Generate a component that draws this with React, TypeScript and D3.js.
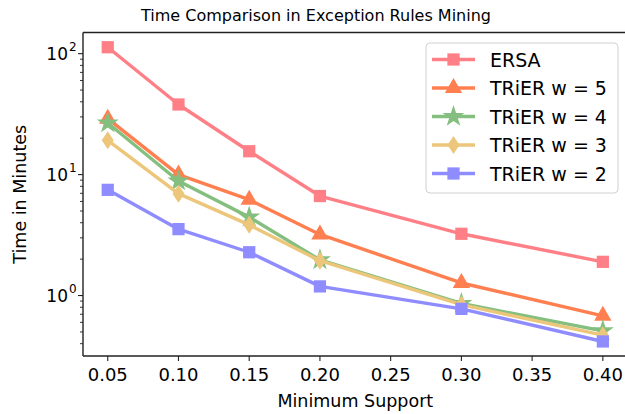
import * as d3 from 'd3';

const supports = [0.05, 0.1, 0.15, 0.2, 0.3, 0.4];
const xTicks = [0.05, 0.1, 0.15, 0.2, 0.25, 0.3, 0.35, 0.4];

const ersa = [113, 38, 15.6, 6.65, 3.24, 1.9];
const trier5 = [29, 10, 6.2, 3.2, 1.27, 0.68];
const trier4 = [26.7, 8.85, 4.45, 1.97, 0.86, 0.51];
const trier3 = [19.2, 6.96, 3.84, 1.94, 0.84, 0.47];
const trier2 = [7.48, 3.54, 2.28, 1.19, 0.776, 0.417];

const seriesNames = ['ERSA', 'TRiER w = 5', 'TRiER w = 4', 'TRiER w = 3', 'TRiER w = 2'];
const seriesValues = [ersa, trier5, trier4, trier3, trier2];
const seriesColours = ['#ff7f86', '#ff7f50', '#85bf7f', '#ecc67a', '#8f8cff'];
const seriesMarkers = ['square', 'triangle', 'star', 'diamond', 'square'];

const WIDTH = 625;
const HEIGHT = 414;
const font = "'DejaVu Sans', sans-serif";

function markerPath(kind: string): string {
  if (kind === 'square') return d3.symbol(d3.symbolSquare, 150)()!;
  if (kind === 'triangle') return d3.symbol(d3.symbolTriangle, 130)()!;
  if (kind === 'star') return d3.symbol(d3.symbolStar, 150)()!;
  // thin diamond
  const path = d3.path();
  path.moveTo(0, -9);
  path.lineTo(6, 0);
  path.lineTo(0, 9);
  path.lineTo(-6, 0);
  path.closePath();
  return path.toString();
}

export default function App() {
  const x = d3.scaleLinear().domain([0.0325, 0.4175]).range([83, 627.6]);
  const y = d3
    .scaleLog()
    .domain([Math.pow(10, -0.5), Math.pow(10, 2.175)])
    .range([356, 32.5]);

  const [left, right] = x.range();
  const [bottom, top] = y.range();

  const line = d3
    .line<number>()
    .x((_, i) => x(supports[i]))
    .y((v) => y(v));

  const majors = [1, 10, 100];
  const minors: number[] = [];
  for (let decade = 0.1; decade <= 100; decade *= 10) {
    for (let k = 2; k <= 9; k++) {
      const v = decade * k;
      if (y(v) <= bottom && y(v) >= top) minors.push(v);
    }
  }

  const legendX = 426;
  const legendY = 43;
  const legendRowGap = 28.5;

  return (
    <svg
      width={WIDTH}
      height={HEIGHT}
      style={{ position: 'absolute', left: 0, top: 0, background: '#fff' }}
      fontFamily={font}
    >
      <text x={316} y={21} textAnchor="middle" fontSize={16} fill="#000">
        Time Comparison in Exception Rules Mining
      </text>

      {seriesValues.map((values, s) => (
        <g key={seriesNames[s]}>
          <path
            d={line(values)!}
            fill="none"
            stroke={seriesColours[s]}
            strokeWidth={3.4}
            strokeLinejoin="round"
          />
          {values.map((v, i) => (
            <path
              key={i}
              d={markerPath(seriesMarkers[s])}
              transform={`translate(${x(supports[i])},${y(v)})`}
              fill={seriesColours[s]}
            />
          ))}
        </g>
      ))}

      {/* spines */}
      <line x1={left} x2={left} y1={top} y2={bottom} stroke="#222" strokeWidth={1.4} />
      <line x1={left} x2={WIDTH} y1={bottom} y2={bottom} stroke="#222" strokeWidth={1.4} />
      <line x1={left} x2={WIDTH} y1={top} y2={top} stroke="#222" strokeWidth={1.4} />

      {xTicks.map((t) => (
        <g key={t} transform={`translate(${x(t)},${bottom})`}>
          <line y1={0} y2={5} stroke="#222" strokeWidth={1.1} />
          <text y={25} textAnchor="middle" fontSize={18} fill="#000">
            {d3.format('.2f')(t)}
          </text>
        </g>
      ))}

      {majors.map((t) => (
        <g key={t} transform={`translate(${left},${y(t)})`}>
          <line x1={0} x2={-5} stroke="#222" strokeWidth={1.1} />
          <text x={-15} y={6} textAnchor="end" fontSize={17} fill="#000">
            10
          </text>
          <text x={-14} y={-2.5} textAnchor="start" fontSize={12} fill="#000">
            {Math.round(Math.log10(t))}
          </text>
        </g>
      ))}
      {minors.map((t) => (
        <line
          key={t}
          x1={left}
          x2={left - 3}
          y1={y(t)}
          y2={y(t)}
          stroke="#222"
          strokeWidth={0.9}
        />
      ))}

      <text x={(left + right) / 2} y={407} textAnchor="middle" fontSize={17.5} fill="#000">
        Minimum Support
      </text>
      <text
        transform={`translate(26,${(top + bottom) / 2}) rotate(-90)`}
        textAnchor="middle"
        fontSize={17.5}
        fill="#000"
      >
        Time in Minutes
      </text>

      <rect
        x={legendX}
        y={legendY}
        width={192}
        height={150}
        rx={4}
        fill="#fff"
        fillOpacity={0.8}
        stroke="#d0d0d0"
        strokeWidth={1}
      />
      {seriesNames.map((name, s) => {
        const cy = legendY + 16.5 + s * legendRowGap;
        return (
          <g key={name}>
            <line
              x1={legendX + 6}
              x2={legendX + 49}
              y1={cy}
              y2={cy}
              stroke={seriesColours[s]}
              strokeWidth={3.4}
            />
            <path
              d={markerPath(seriesMarkers[s])}
              transform={`translate(${legendX + 27.5},${cy})`}
              fill={seriesColours[s]}
            />
            <text x={legendX + 64} y={cy + 7} fontSize={19} fill="#000">
              {name}
            </text>
          </g>
        );
      })}
    </svg>
  );
}
